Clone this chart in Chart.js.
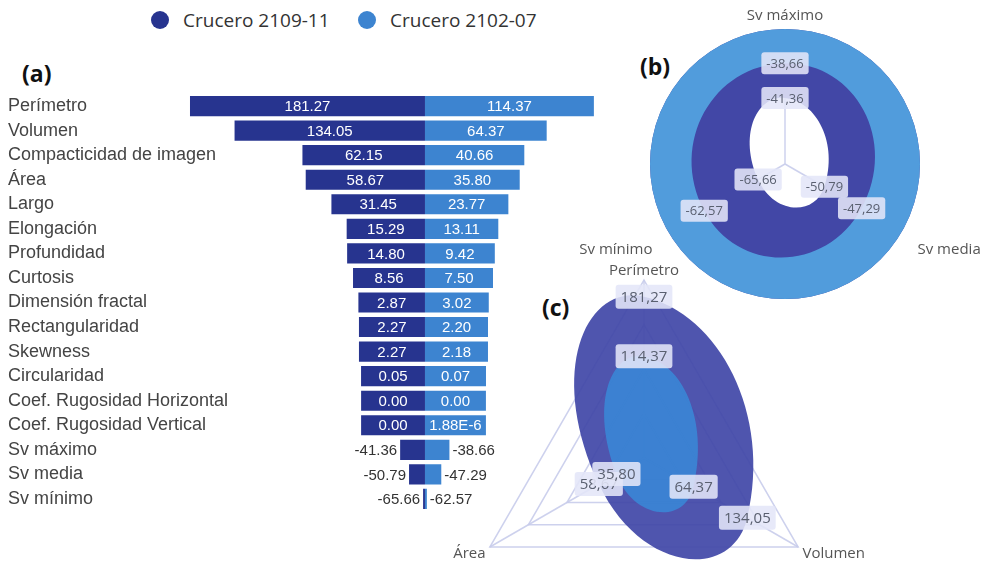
<!DOCTYPE html>
<html lang="es">
<head>
<meta charset="utf-8">
<script src="https://cdn.jsdelivr.net/npm/chart.js@4.4.1/dist/chart.umd.min.js"></script>
<style>
  body { margin: 0; background: #fff; font-family: "Open Sans", sans-serif; }
  #page { position: relative; width: 987px; height: 561px; overflow: hidden; }
  canvas { position: absolute; }
  .leg { position: absolute; top: 7px; font-size: 19px; color: #333; white-space: nowrap; }
  .dot { display: inline-block; width: 18px; height: 18px; border-radius: 50%; vertical-align: -2px; margin-right: 14px; }
  .tag { position: absolute; font-weight: 700; font-size: 23px; color: #111; }
</style>
</head>
<body>
<div id="page">
  <div class="leg" style="left:151px"><span class="dot" style="background:#27348f"></span>Crucero 2109-11</div>
  <div class="leg" style="left:358px"><span class="dot" style="background:#3d84d0"></span>Crucero 2102-07</div>
  <div class="tag" style="left:22px;top:57px">(a)</div>
  <div class="tag" style="left:640px;top:50px">(b)</div>
  <div class="tag" style="left:542px;top:291px">(c)</div>

  <canvas id="funnel" width="640" height="445" style="left:0;top:80px"></canvas>
  <canvas id="radarC" width="520" height="384" style="left:384px;top:259px"></canvas>
  <canvas id="radarB" width="460" height="314" style="left:555px;top:-4px"></canvas>
</div>

<script>
// datos
const categories = ['Perímetro', 'Volumen', 'Compacticidad de imagen', 'Área', 'Largo', 'Elongación',
  'Profundidad', 'Curtosis', 'Dimensión fractal', 'Rectangularidad', 'Skewness', 'Circularidad',
  'Coef. Rugosidad Horizontal', 'Coef. Rugosidad Vertical', 'Sv máximo', 'Sv media', 'Sv mínimo'];
const crucero2109 = [181.27, 134.05, 62.15, 58.67, 31.45, 15.29, 14.80, 8.56, 2.87, 2.27, 2.27, 0.05, 0.00, 0.00, -41.36, -50.79, -65.66];
const crucero2102 = [114.37, 64.37, 40.66, 35.80, 23.77, 13.11, 9.42, 7.50, 3.02, 2.20, 2.18, 0.07, 0.00, 0.00000188, -38.66, -47.29, -62.57];

// ejes de los radares (orden horario desde arriba)
const svAxes = ['Sv máximo', 'Sv media', 'Sv mínimo'];
const svAxisMin = [-46.5, -54.5, -67.2];   // rango de cada eje en (b)
const svAxisMax = [-36, -43.5, -60.5];
const shapeAxes = ['Perímetro', 'Volumen', 'Área'];

const colDark = '#27348f';
const colLight = '#3d84d0';

const pick = (arr, names) => names.map(n => arr[categories.indexOf(n)]);

// embudo: largo de barra = valor - minimo de la serie
function funnel(arr) {
  const lo = Math.min(...arr);
  return arr.map(v => v - lo + 2);
}

function fmtBar(v) {
  if (v !== 0 && Math.abs(v) < 0.001) return v.toExponential(2).toUpperCase();
  return v.toFixed(2);
}
const fmtComma = v => v.toFixed(2).replace('.', ',');

const barLabels = {
  id: 'barLabels',
  afterDatasetsDraw(chart) {
    const ctx = chart.ctx;
    ctx.save();
    ctx.font = '15px "Liberation Sans", Arial, sans-serif';
    ctx.textBaseline = 'middle';
    chart.data.datasets.forEach((ds, di) => {
      chart.getDatasetMeta(di).data.forEach((bar, i) => {
        const txt = fmtBar(ds.values[i]);
        const w = Math.abs(bar.x - bar.base);
        const tw = ctx.measureText(txt).width;
        if (w > tw + 6) {
          ctx.fillStyle = '#fff';
          ctx.textAlign = 'center';
          ctx.fillText(txt, (bar.x + bar.base) / 2, bar.y + 1);
        } else {
          ctx.fillStyle = '#333';
          ctx.textAlign = di === 0 ? 'right' : 'left';
          ctx.fillText(txt, bar.x + (di === 0 ? -3 : 3), bar.y + 1);
        }
      });
    });
    ctx.restore();
  }
};

function radarLabels(size) {
  return {
    id: 'radarLabels',
    afterDatasetsDraw(chart) {
      const ctx = chart.ctx;
      ctx.save();
      ctx.font = size + 'px "Open Sans", sans-serif';
      ctx.textAlign = 'center';
      ctx.textBaseline = 'middle';
      chart.data.datasets.forEach((ds, di) => {
        chart.getDatasetMeta(di).data.forEach((pt, i) => {
          const txt = fmtComma(ds.values[i]);
          const w = ctx.measureText(txt).width + 10, h = size + 9;
          ctx.fillStyle = 'rgba(228,230,248,0.88)';
          ctx.beginPath();
          ctx.roundRect(pt.x - w / 2, pt.y - h / 2, w, h, 3);
          ctx.fill();
          ctx.fillStyle = '#5a6070';
          ctx.fillText(txt, pt.x, pt.y + 1);
        });
      });
      ctx.restore();
    }
  };
}

// (a) embudo
new Chart(document.getElementById('funnel'), {
  type: 'bar',
  data: {
    labels: categories,
    datasets: [{
      label: 'Crucero 2109-11',
      values: crucero2109,
      data: funnel(crucero2109).map(v => -v),
      backgroundColor: colDark,
      barPercentage: 0.82,
      categoryPercentage: 1
    }, {
      label: 'Crucero 2102-07',
      values: crucero2102,
      data: funnel(crucero2102),
      backgroundColor: colLight,
      barPercentage: 0.82,
      categoryPercentage: 1
    }]
  },
  options: {
    indexAxis: 'y',
    responsive: false,
    animation: false,
    devicePixelRatio: 1,
    layout: { padding: { left: 5, right: 10, top: 12.6, bottom: 12.7 } },
    plugins: { legend: { display: false }, tooltip: { enabled: false } },
    scales: {
      x: { stacked: true, display: false, min: -444.9, max: 217.2 },
      y: {
        stacked: true,
        grid: { display: false, drawTicks: false },
        border: { display: false },
        afterFit: s => { s.width = 0; },
        ticks: {
          mirror: true,
          padding: 3,
          color: '#444',
          font: { family: '"Liberation Sans", Arial, sans-serif', size: 18 }
        }
      }
    }
  },
  plugins: [barLabels]
});

// (b) Sv, cada eje con su propio rango
const svDark = pick(crucero2109, svAxes);
const svLight = pick(crucero2102, svAxes);
const norm = arr => arr.map((v, i) => (v - svAxisMin[i]) / (svAxisMax[i] - svAxisMin[i]));

new Chart(document.getElementById('radarB'), {
  type: 'radar',
  data: {
    labels: svAxes,
    datasets: [{
      label: 'Crucero 2109-11',
      values: svDark,
      data: norm(svDark),
      backgroundColor: '#4247a6',
      borderWidth: 0,
      fill: 'end',
      tension: 0.9,
      pointRadius: 0,
      order: 2
    }, {
      label: 'Crucero 2102-07',
      values: svLight,
      data: norm(svLight),
      backgroundColor: '#519cdc',
      borderWidth: 0,
      fill: 'end',
      tension: 0.9,
      pointRadius: 0,
      order: 1
    }]
  },
  options: {
    responsive: false,
    animation: false,
    devicePixelRatio: 1,
    plugins: { legend: { display: false }, tooltip: { enabled: false } },
    scales: {
      r: {
        min: 0,
        max: 1,
        ticks: { display: false },
        grid: { display: false, circular: true },
        angleLines: { color: 'rgba(200,204,235,0.9)', lineWidth: 1.5 },
        pointLabels: {
          color: '#555',
          padding: c => (c.index === 0 ? 4 : 18),
          font: { family: '"Open Sans", sans-serif', size: 15 }
        }
      }
    }
  },
  plugins: [radarLabels(13)]
});

// (c) Perímetro, Volumen, Área
const shDark = pick(crucero2109, shapeAxes);
const shLight = pick(crucero2102, shapeAxes);

new Chart(document.getElementById('radarC'), {
  type: 'radar',
  data: {
    labels: shapeAxes,
    datasets: [{
      label: 'Crucero 2109-11',
      values: shDark,
      data: shDark,
      backgroundColor: 'rgba(66,72,168,0.93)',
      borderWidth: 0,
      fill: 'start',
      tension: 0.9,
      pointRadius: 0,
      order: 2
    }, {
      label: 'Crucero 2102-07',
      values: shLight,
      data: shLight,
      backgroundColor: 'rgba(59,132,212,0.95)',
      borderWidth: 0,
      fill: 'start',
      tension: 0.9,
      pointRadius: 0,
      order: 1
    }]
  },
  options: {
    responsive: false,
    animation: false,
    devicePixelRatio: 1,
    plugins: { legend: { display: false }, tooltip: { enabled: false } },
    scales: {
      r: {
        min: 0,
        max: 200,
        ticks: { display: false, stepSize: 50 },
        grid: { color: 'rgba(200,204,235,0.9)', lineWidth: 1.5 },
        angleLines: { color: 'rgba(200,204,235,0.9)', lineWidth: 1.5 },
        pointLabels: { color: '#555', font: { family: '"Open Sans", sans-serif', size: 15, lineHeight: 0.6 } }
      }
    }
  },
  plugins: [radarLabels(15)]
});
</script>
</body>
</html>
